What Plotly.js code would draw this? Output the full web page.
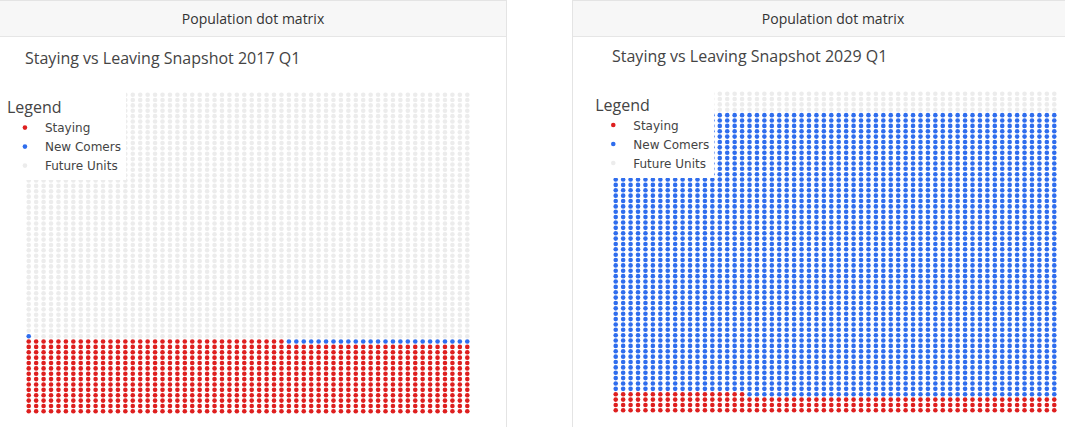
<!DOCTYPE html>
<html>
<head>
<meta charset="utf-8">
<script src="https://cdn.plot.ly/plotly-3.0.1.min.js"></script>
<style>
  html, body { margin:0; padding:0; background:#fff; width:1065px; height:427px; overflow:hidden; position:relative; }
  .card { position:absolute; top:0; width:522px; height:440px; border:1px solid #e4e4e4; box-sizing:border-box; background:#fff; }
  .card-header { height:36px; line-height:35px; box-sizing:border-box; background:#f7f7f7; border-bottom:1px solid #e6e6e6;
                 text-align:center; font-family:"Open Sans", sans-serif; font-size:14px; color:#333; }
  .plot { width:520px; height:390px; }
</style>
</head>
<body>
<div class="card" style="left:-15px">
  <div class="card-header" style="padding-left:14px">Population dot matrix</div>
  <div class="plot" id="plot0"></div>
</div>
<div class="card" style="left:572px">
  <div class="card-header">Population dot matrix</div>
  <div class="plot" id="plot1"></div>
</div>
<script>
// snapshot data: one entry per panel
const snapshots   = ['2017 Q1', '2029 Q1'];
const categories  = ['Staying', 'New Comers', 'Future Units'];
const staying     = [815, 198];
const newComers   = [26, 3162];
const futureUnits = [2759, 240];
const colors      = ['#de1f1f', '#2f6ded', '#ececec'];
const gridCols = 60;

// lay the units out row by row, from the bottom-left corner
function buildTraces(i){
  const counts = [staying[i], newComers[i], futureUnits[i]];
  const traces = [];
  let idx = 0;
  counts.forEach(function(n, c){
    const xs = [], ys = [];
    for(let k=0;k<n;k++){
      xs.push(idx % gridCols);
      ys.push(Math.floor(idx / gridCols));
      idx++;
    }
    traces.push({x:xs, y:ys, type:'scatter', mode:'markers', name:categories[c],
      marker:{size:4.6, color:colors[c]}, hoverinfo:'skip'});
  });
  return traces;
}

// top: plot margin, titleY: title centre in px, leg: legend x/y in paper units
function draw(i, top, titleY, legX, legY){
  const gridRows = Math.ceil((staying[i]+newComers[i]+futureUnits[i]) / gridCols);
  const layout = {
    width:520, height:390,
    margin:{l:39, r:35, t:top, b:390-top-322},
    font:{family:'"Open Sans", verdana, arial, sans-serif', color:'#444'},
    title:{text:'Staying vs Leaving Snapshot ' + snapshots[i], x:39/520, xanchor:'left',
      y:1-titleY/390, yanchor:'middle', font:{size:16}},
    xaxis:{range:[-0.5, gridCols-0.5], visible:false, fixedrange:true},
    yaxis:{range:[-0.5, gridRows-0.5], visible:false, fixedrange:true},
    showlegend:true,
    legend:{title:{text:'Legend', font:{size:16, family:'"Open Sans", sans-serif'}},
      font:{size:12, family:'"DejaVu Sans", verdana, sans-serif'},
      x:legX, xanchor:'left', y:legY, yanchor:'top', bgcolor:'#fff'},
    paper_bgcolor:'#fff', plot_bgcolor:'#fff'
  };
  Plotly.newPlot('plot'+i, buildTraces(i), layout, {displayModeBar:false, staticPlot:true});
}

draw(0, 55, 21, -0.045, 0.999);
draw(1, 54, 19, -0.042, 1.004);
</script>
</body>
</html>
